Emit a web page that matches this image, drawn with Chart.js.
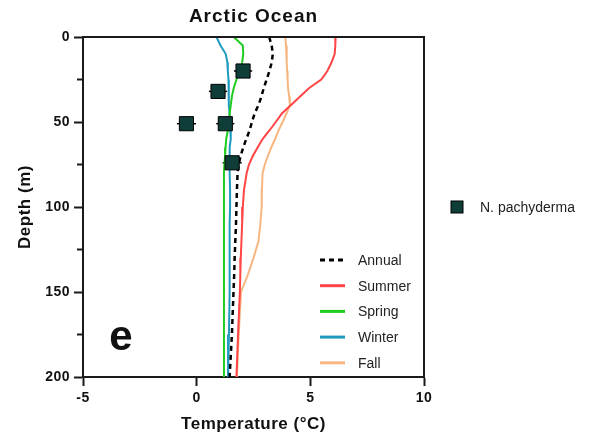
<!DOCTYPE html>
<html lang="en">
<head>
  <meta charset="UTF-8">
  <title>Arctic Ocean</title>
  <script src="https://cdn.jsdelivr.net/npm/chart.js"></script>
  <style>
    html, body { margin: 0; padding: 0; background: #fff; }
    #wrap { width: 604px; height: 438px; }
  </style>
</head>
<body>
  <div id="wrap"><canvas id="arctic"></canvas></div>
  <script>
    // depth levels (m) shared by all temperature profiles
    const depths = [0, 5, 10, 15, 20, 25, 30, 35, 40, 45, 50, 55, 60, 65, 70, 75, 80, 90, 100, 110, 120, 130, 140, 150, 175, 200];

    // temperature profiles (deg C)
    const annual = [3.19, 3.3, 3.35, 3.3, 3.2, 3.08, 2.95, 2.85, 2.72, 2.55, 2.43, 2.33, 2.18, 2.05, 1.93, 1.85, 1.8, 1.77, 1.75, 1.73, 1.7, 1.67, 1.65, 1.62, 1.55, 1.45];
    const summer = [6.11, 6.1, 6.07, 5.93, 5.75, 5.48, 4.95, 4.55, 4.15, 3.75, 3.48, 3.2, 2.9, 2.68, 2.47, 2.3, 2.2, 2.08, 2.03, 2.0, 1.97, 1.94, 1.92, 1.9, 1.82, 1.75];
    const spring = [1.63, 2.03, 2.05, 2.0, 1.9, 1.75, 1.63, 1.55, 1.5, 1.45, 1.4, 1.37, 1.3, 1.27, 1.25, 1.22, 1.2, 1.2, 1.2, 1.2, 1.2, 1.2, 1.2, 1.2, 1.2, 1.2];
    const winter = [0.87, 1.05, 1.28, 1.35, 1.37, 1.4, 1.4, 1.42, 1.42, 1.45, 1.45, 1.48, 1.5, 1.45, 1.45, 1.45, 1.45, 1.47, 1.47, 1.45, 1.45, 1.45, 1.45, 1.45, 1.42, 1.38];
    const fall   = [3.9, 3.93, 3.95, 3.97, 3.98, 4.0, 4.02, 4.07, 4.1, 3.95, 3.78, 3.6, 3.45, 3.28, 3.13, 3.0, 2.9, 2.87, 2.86, 2.8, 2.72, 2.5, 2.25, 1.95, 1.85, 1.77];

    // N. pachyderma calcification temperatures
    const pachyTemp  = [2.04, 0.94, -0.45, 1.26, 1.56];
    const pachyDepth = [20, 32, 51, 51, 74];
    const pachyErr   = [0.4, 0.4, 0.42, 0.4, 0.42];

    const xTicks = [-5, 0, 5, 10];
    const yTicks = [0, 50, 100, 150, 200];
    const yMinorTicks = [25, 75, 125, 175];

    const FONT = "'Liberation Sans', Arial, sans-serif";
    const AXIS = '#1a1a1a';

    const profile = (temps) => temps.map((t, i) => ({ x: t, y: depths[i] }));

    const seasons = [
      { label: 'Annual', data: annual, color: '#000000', dash: [5, 4] },
      { label: 'Summer', data: summer, color: '#ff4545', dash: [] },
      { label: 'Spring', data: spring, color: '#1fcc1f', dash: [] },
      { label: 'Winter', data: winter, color: '#1f9bc0', dash: [] },
      { label: 'Fall',   data: fall,   color: '#f7b67f', dash: [] }
    ];

    const pachyPoints = pachyTemp.map((t, i) => ({ x: t, y: pachyDepth[i], err: pachyErr[i] }));

    const datasets = [{
      label: 'N. pachyderma',
      data: pachyPoints,
      showLine: false,
      pointStyle: 'rect',
      pointRadius: 10,
      pointHoverRadius: 10,
      backgroundColor: '#0f3d38',
      borderColor: '#000',
      borderWidth: 1
    }];
    seasons.forEach(s => {
      datasets.push({
        label: s.label,
        data: profile(s.data),
        showLine: true,
        pointRadius: 0,
        borderColor: s.color,
        borderWidth: s.label === 'Annual' ? 2.5 : 2,
        borderDash: s.dash,
        tension: 0,
        fill: false
      });
    });

    const decorations = {
      id: 'decorations',
      beforeDraw(chart) {
        chart.ctx.letterSpacing = '0.5px';
      },
      beforeDatasetsDraw(chart) {
        const ctx = chart.ctx;
        const xs = chart.scales.x, ys = chart.scales.y;
        ctx.save();
        ctx.strokeStyle = '#000';
        ctx.lineWidth = 1.5;
        pachyPoints.forEach(p => {
          const py = ys.getPixelForValue(p.y);
          ctx.beginPath();
          ctx.moveTo(xs.getPixelForValue(p.x - p.err), py);
          ctx.lineTo(xs.getPixelForValue(p.x + p.err), py);
          ctx.stroke();
        });
        ctx.restore();
      },
      afterDraw(chart) {
        const ctx = chart.ctx;
        const a = chart.chartArea;
        const ys = chart.scales.y;
        ctx.save();
        ctx.letterSpacing = '0px';
        // frame top and right
        ctx.strokeStyle = AXIS;
        ctx.lineWidth = 2;
        ctx.beginPath();
        ctx.moveTo(a.left, a.top);
        ctx.lineTo(a.right, a.top);
        ctx.lineTo(a.right, a.bottom);
        ctx.stroke();
        // minor ticks on depth axis
        yMinorTicks.forEach(v => {
          const py = ys.getPixelForValue(v);
          ctx.beginPath();
          ctx.moveTo(a.left - 6, py);
          ctx.lineTo(a.left, py);
          ctx.stroke();
        });

        // title
        ctx.fillStyle = '#111';
        ctx.letterSpacing = '1px';
        ctx.font = 'bold 19px ' + FONT;
        ctx.textAlign = 'center';
        ctx.textBaseline = 'middle';
        ctx.fillText('Arctic Ocean', (a.left + a.right) / 2, 17);

        // panel letter
        ctx.letterSpacing = '0px';
        ctx.font = 'bold 42px ' + FONT;
        ctx.fillText('e', 121, 338);

        // inside legend for profiles
        ctx.font = '14px ' + FONT;
        ctx.textAlign = 'left';
        seasons.forEach((s, i) => {
          const ly = 260 + i * 25.7;
          ctx.strokeStyle = s.color;
          ctx.lineWidth = 3;
          ctx.setLineDash(s.dash);
          ctx.beginPath();
          ctx.moveTo(320, ly);
          ctx.lineTo(345, ly);
          ctx.stroke();
          ctx.setLineDash([]);
          ctx.fillStyle = '#222';
          ctx.fillText(s.label, 358, ly + 1);
        });

        // outside legend for marker
        ctx.fillStyle = '#0f3d38';
        ctx.strokeStyle = '#000';
        ctx.lineWidth = 1;
        ctx.fillRect(451, 201, 12, 12);
        ctx.strokeRect(451, 201, 12, 12);
        ctx.fillStyle = '#222';
        ctx.fillText('N. pachyderma', 480, 208);
        ctx.restore();
      }
    };

    new Chart(document.getElementById('arctic'), {
      type: 'scatter',
      data: { datasets: datasets },
      options: {
        responsive: true,
        maintainAspectRatio: false,
        animation: false,
        layout: { padding: { left: 0, right: 180, top: 37, bottom: 0 } },
        plugins: {
          legend: { display: false },
          tooltip: { enabled: false }
        },
        scales: {
          x: {
            type: 'linear',
            min: -5,
            max: 10,
            afterFit: s => { s.height = 61; },
            afterBuildTicks: s => { s.ticks = xTicks.map(v => ({ value: v })); },
            grid: { drawOnChartArea: false, tickLength: 9, tickWidth: 2, tickColor: AXIS },
            border: { display: true, width: 2, color: AXIS },
            ticks: { color: '#111', padding: 4, font: { family: FONT, size: 14, weight: 'bold' } },
            title: {
              display: true,
              text: 'Temperature (°C)',
              color: '#111',
              padding: { top: 0, bottom: 3 },
              font: { family: FONT, size: 17, weight: 'bold' }
            }
          },
          y: {
            type: 'linear',
            reverse: true,
            min: 0,
            max: 200,
            afterFit: s => { s.width = 83; },
            afterBuildTicks: s => { s.ticks = yTicks.map(v => ({ value: v })); },
            grid: { drawOnChartArea: false, tickLength: 9, tickWidth: 2, tickColor: AXIS },
            border: { display: true, width: 2, color: AXIS },
            ticks: { color: '#111', padding: 4, font: { family: FONT, size: 14, weight: 'bold' } },
            title: {
              display: true,
              text: 'Depth (m)',
              color: '#111',
              padding: { top: 15, bottom: 0 },
              font: { family: FONT, size: 17, weight: 'bold' }
            }
          }
        }
      },
      plugins: [decorations]
    });
  </script>
</body>
</html>
